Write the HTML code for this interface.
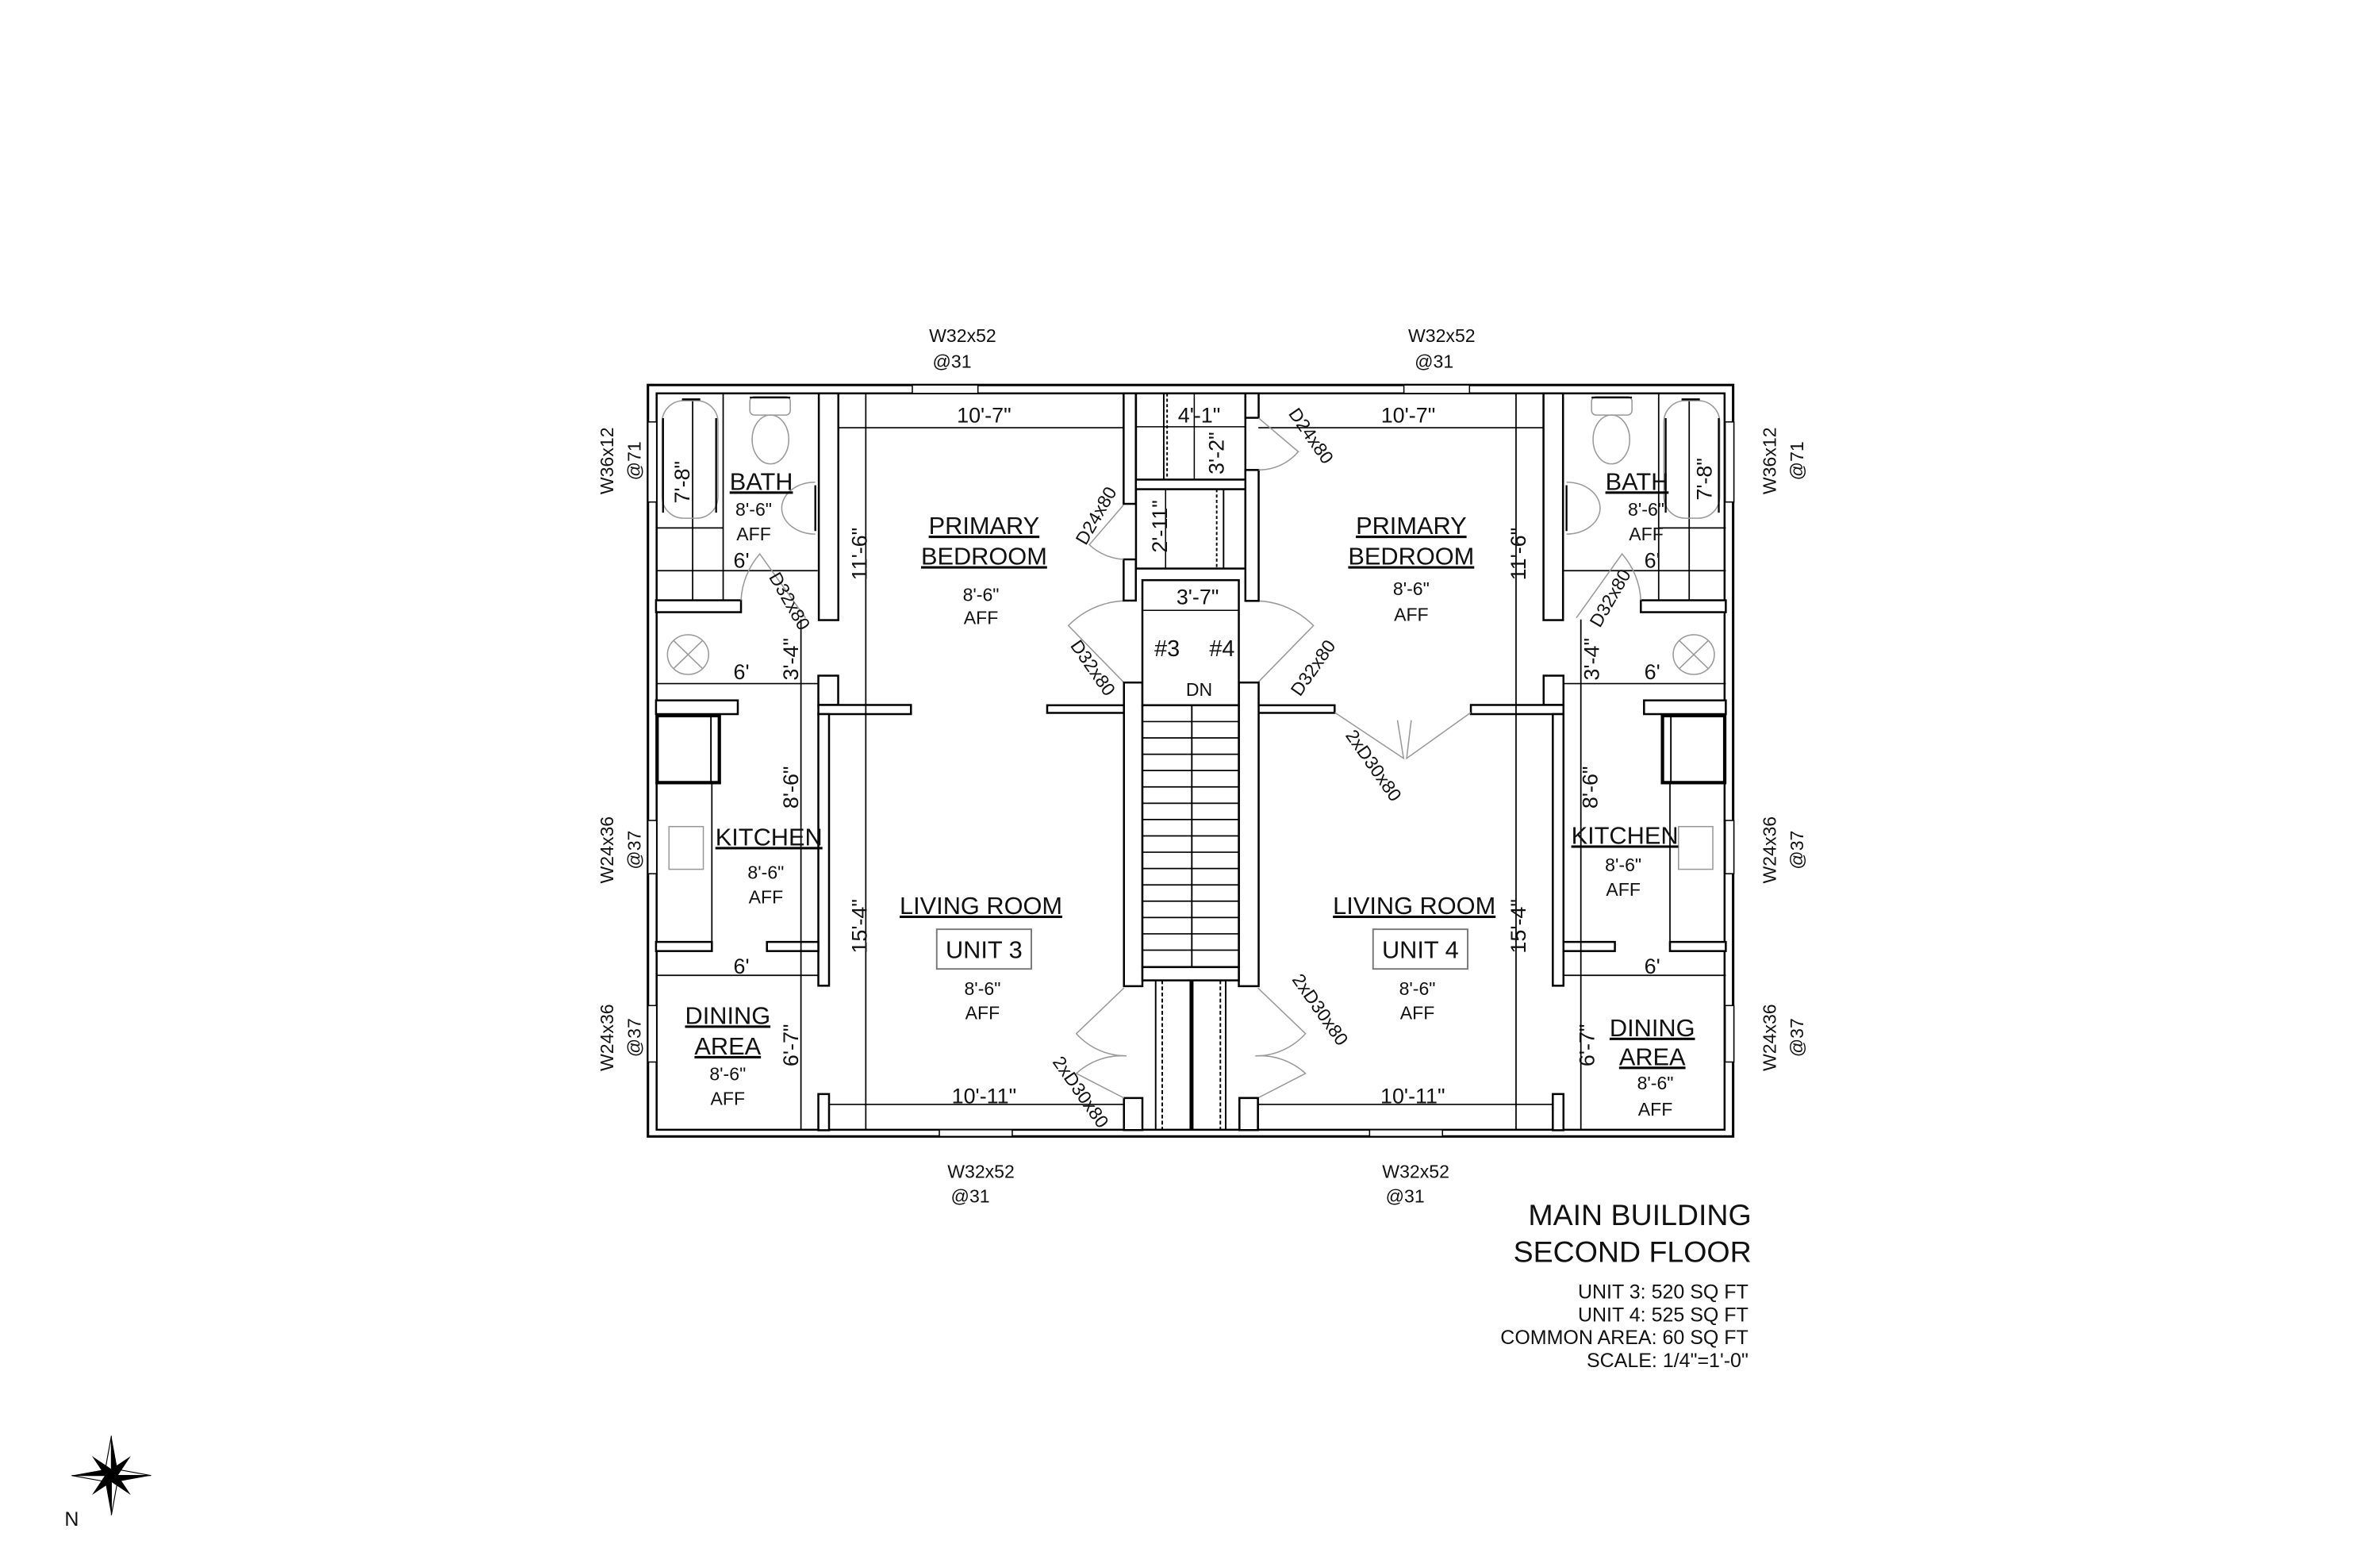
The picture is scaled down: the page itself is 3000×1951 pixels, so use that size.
<!DOCTYPE html>
<html><head><meta charset="utf-8"><style>
html,body{margin:0;padding:0;background:#fff;}
svg{display:block;}
text{font-family:"Liberation Sans",Arial,sans-serif;fill:#111;}
</style></head><body>
<svg width="3000" height="1951" viewBox="0 0 1560 1014.5" xmlns="http://www.w3.org/2000/svg">
<defs>
<g id="half">
  <g fill="#fff" stroke="#000" stroke-width="1.3">
    <rect x="536.7" y="257.8" width="12.8" height="148.6"/>
    <rect x="430" y="393.4" width="55.7" height="7.8"/>
    <rect x="430" y="459" width="53.6" height="9"/>
    <rect x="536.4" y="442.8" width="13" height="19.2"/>
    <rect x="536.4" y="462" width="60.7" height="6"/>
    <rect x="536.4" y="468" width="7" height="178"/>
    <rect x="430" y="617.3" width="36.6" height="6"/>
    <rect x="502.7" y="617.3" width="33.7" height="6"/>
    <rect x="536.4" y="717" width="7" height="23.7"/>
    <rect x="686.4" y="462.2" width="50.3" height="5"/>
    <rect x="736.7" y="719.6" width="12.1" height="21"/>
  </g>
  <g stroke="#000" stroke-width="0.9" fill="none">
    <line x1="549.5" y1="280.3" x2="736.4" y2="280.3"/>
    <line x1="567.5" y1="257.8" x2="567.5" y2="740"/>
    <line x1="543.4" y1="723.8" x2="736.7" y2="723.8"/>
    <line x1="454" y1="262" x2="454" y2="393"/>
    <line x1="430" y1="374" x2="536" y2="374"/>
    <line x1="474" y1="257.8" x2="474" y2="393"/>
    <line x1="430" y1="346" x2="474" y2="346"/>
    <line x1="430" y1="448" x2="536" y2="448"/>
    <line x1="525" y1="406" x2="525" y2="740"/>
    <line x1="430" y1="639.2" x2="536" y2="639.2"/>
    <line x1="466.6" y1="512" x2="466.6" y2="617"/>
  </g>
  <g stroke="#999" stroke-width="0.8" fill="none">
    <rect x="434" y="262.6" width="36.6" height="77" rx="14"/>
    <rect x="491.5" y="260" width="26.5" height="12" rx="3"/>
    <ellipse cx="505" cy="288" rx="12" ry="16"/>
    <path d="M534.4,316 A22 17 0 0 0 534.4,350"/>
    <ellipse cx="451" cy="429" rx="13.5" ry="13"/>
    <line x1="441.5" y1="419.8" x2="460.5" y2="438.2"/>
    <line x1="460.5" y1="419.8" x2="441.5" y2="438.2"/>
    <path d="M528,405 L498,363 A50 50 0 0 0 485.7,393.4"/>
    <path d="M736.7,447.3 L700.3,410 A53.5 53.5 0 0 1 736.7,393.8"/>
    <path d="M736.7,647.5 L705.5,677.4 A44 44 0 0 0 738.4,692"/>
    <path d="M736.7,719.6 L705.5,703.5 A44 44 0 0 1 738.4,692"/>
    <rect x="438.5" y="541.7" width="22.5" height="28"/>
  </g>
  <g stroke="#000" stroke-width="1.2" fill="none">
    <line x1="434.6" y1="274" x2="434.6" y2="336"/>
    <line x1="469.4" y1="274" x2="469.4" y2="336"/>
    <line x1="447" y1="261.7" x2="459" y2="261.7"/>
    <line x1="534.4" y1="318" x2="534.4" y2="348"/>
    <line x1="491.5" y1="260.5" x2="518" y2="260.5"/>
  </g>
  <rect x="430.7" y="469" width="40.8" height="43.9" fill="#fff" stroke="#000" stroke-width="2.2"/>
  <line x1="466" y1="470" x2="466" y2="512" stroke="#000" stroke-width="1"/>
  <g fill="#fff" stroke="#000" stroke-width="0.8">
    <rect x="424.7" y="276.5" width="5.7" height="52.5"/>
    <rect x="424.7" y="537.7" width="5.7" height="34.9"/>
    <rect x="424.7" y="659" width="5.7" height="37"/>
    <rect x="598" y="252.3" width="43" height="5.5"/>
    <rect x="615.7" y="740.4" width="47.8" height="4.4"/>
  </g>
</g>
</defs>

<rect x="424.7" y="252.3" width="711.3" height="492.5" fill="#fff" stroke="#000" stroke-width="1.6"/>
<rect x="430.4" y="257.8" width="700" height="482.6" fill="#fff" stroke="#000" stroke-width="1.3"/>

<use href="#half"/>
<use href="#half" transform="translate(1561.2,0) scale(-1,1)"/>

<g fill="#fff" stroke="#000" stroke-width="1.3">
  <rect x="736.5" y="257.8" width="8" height="72.4"/>
  <rect x="736.5" y="366.6" width="8" height="27"/>
  <rect x="736.7" y="447.3" width="12.1" height="199"/>
  <rect x="744.6" y="257.8" width="71.7" height="56.5"/>
  <rect x="744.6" y="320.6" width="71.7" height="52"/>
  <rect x="816.3" y="257.8" width="8.7" height="16"/>
  <rect x="816.3" y="308" width="8.7" height="85.8"/>
  <rect x="812" y="447.3" width="13" height="199"/>
  <rect x="748.8" y="380.2" width="63.2" height="82"/>
  <rect x="748.8" y="462.2" width="63.2" height="171.6"/>
  <rect x="748.8" y="633.8" width="63.2" height="8.7"/>
  <rect x="812.4" y="719.6" width="12.1" height="21"/>
</g>
<g stroke="#000" stroke-width="1" fill="none">
  <line x1="762.8" y1="257.8" x2="762.8" y2="314.3"/>
  <line x1="765" y1="257.8" x2="765" y2="314.3" stroke-dasharray="2,1.5"/>
  <line x1="802" y1="320.6" x2="802" y2="372.6"/>
  <line x1="797.5" y1="320.6" x2="797.5" y2="372.6" stroke-dasharray="2,1.5"/>
  <line x1="744.6" y1="279.7" x2="816.3" y2="279.7" stroke-width="0.8"/>
  <line x1="782.8" y1="257.8" x2="782.8" y2="314.3" stroke-width="0.8"/>
  <line x1="764" y1="320.6" x2="764" y2="372.6" stroke-width="0.8"/>
  <line x1="748.8" y1="400" x2="812" y2="400" stroke-width="0.8"/>
  <line x1="781.2" y1="462.2" x2="781.2" y2="633.8"/>
  <line x1="757.5" y1="642.5" x2="757.5" y2="740.4"/>
  <line x1="803.4" y1="642.5" x2="803.4" y2="740.4"/>
  <line x1="761.8" y1="642.5" x2="761.8" y2="740.4" stroke-dasharray="2.5,1.5"/>
  <line x1="799.9" y1="642.5" x2="799.9" y2="740.4" stroke-dasharray="2.5,1.5"/>
  <line x1="781" y1="642.5" x2="781" y2="740.4" stroke-width="2.6"/>
</g>
<g stroke="#000" stroke-width="0.9">
  <line x1="748.8" y1="472.9" x2="812" y2="472.9"/><line x1="748.8" y1="483.6" x2="812" y2="483.6"/>
  <line x1="748.8" y1="494.3" x2="812" y2="494.3"/><line x1="748.8" y1="505" x2="812" y2="505"/>
  <line x1="748.8" y1="515.7" x2="812" y2="515.7"/><line x1="748.8" y1="526.4" x2="812" y2="526.4"/>
  <line x1="748.8" y1="537.1" x2="812" y2="537.1"/><line x1="748.8" y1="547.8" x2="812" y2="547.8"/>
  <line x1="748.8" y1="558.5" x2="812" y2="558.5"/><line x1="748.8" y1="569.2" x2="812" y2="569.2"/>
  <line x1="748.8" y1="579.9" x2="812" y2="579.9"/><line x1="748.8" y1="590.6" x2="812" y2="590.6"/>
  <line x1="748.8" y1="601.3" x2="812" y2="601.3"/><line x1="748.8" y1="612" x2="812" y2="612"/>
  <line x1="748.8" y1="622.7" x2="812" y2="622.7"/>
</g>
<g stroke="#999" stroke-width="0.8" fill="none">
  <path d="M736.4,331 L714,357 A36 36 0 0 0 736.4,366.6"/>
  <path d="M825,274 L851,296 A34 34 0 0 1 825,308"/>
  <path d="M875,467 L920,497 L916,472"/>
  <path d="M964,467 L922,497 L925,472"/>
</g>

<g font-size="12" text-anchor="middle">
  <text x="631" y="224">W32x52</text><text x="624" y="241">@31</text>
  <text x="945" y="224">W32x52</text><text x="940" y="241">@31</text>
  <text x="643" y="772">W32x52</text><text x="636" y="788">@31</text>
  <text x="928" y="772">W32x52</text><text x="921" y="788">@31</text>
  <text transform="translate(402,302) rotate(-90)">W36x12</text>
  <text transform="translate(420,302) rotate(-90)">@71</text>
  <text transform="translate(402,557) rotate(-90)">W24x36</text>
  <text transform="translate(420,557) rotate(-90)">@37</text>
  <text transform="translate(402,680) rotate(-90)">W24x36</text>
  <text transform="translate(420,680) rotate(-90)">@37</text>
  <text transform="translate(1164,302) rotate(-90)">W36x12</text>
  <text transform="translate(1182,302) rotate(-90)">@71</text>
  <text transform="translate(1164,557) rotate(-90)">W24x36</text>
  <text transform="translate(1182,557) rotate(-90)">@37</text>
  <text transform="translate(1164,680) rotate(-90)">W24x36</text>
  <text transform="translate(1182,680) rotate(-90)">@37</text>
</g>

<g font-size="16" text-anchor="middle" text-decoration="underline">
  <text x="499" y="321">BATH</text>
  <text x="645" y="350">PRIMARY</text>
  <text x="645" y="370">BEDROOM</text>
  <text x="504" y="554">KITCHEN</text>
  <text x="643" y="599">LIVING ROOM</text>
  <text x="477" y="671">DINING</text>
  <text x="477" y="691">AREA</text>
  <text x="1073" y="321">BATH</text>
  <text x="925" y="350">PRIMARY</text>
  <text x="925" y="370">BEDROOM</text>
  <text x="1065" y="553">KITCHEN</text>
  <text x="927" y="599">LIVING ROOM</text>
  <text x="1083" y="679">DINING</text>
  <text x="1083" y="698">AREA</text>
</g>
<g font-size="16" text-anchor="middle">
  <rect x="614" y="609" width="62" height="26" fill="none" stroke="#777" stroke-width="1"/>
  <text x="645" y="628">UNIT 3</text>
  <rect x="900" y="609" width="62" height="26" fill="none" stroke="#777" stroke-width="1"/>
  <text x="931" y="628">UNIT 4</text>
  <text x="765" y="430" font-size="15">#3</text>
  <text x="801" y="430" font-size="15">#4</text>
</g>
<g font-size="12" text-anchor="middle">
  <text x="494" y="338">8'-6"</text><text x="494" y="354">AFF</text>
  <text x="643" y="394">8'-6"</text><text x="643" y="409">AFF</text>
  <text x="502" y="576">8'-6"</text><text x="502" y="592">AFF</text>
  <text x="644" y="652">8'-6"</text><text x="644" y="668">AFF</text>
  <text x="477" y="708">8'-6"</text><text x="477" y="724">AFF</text>
  <text x="1079" y="338">8'-6"</text><text x="1079" y="354">AFF</text>
  <text x="925" y="390">8'-6"</text><text x="925" y="407">AFF</text>
  <text x="1064" y="571">8'-6"</text><text x="1064" y="587">AFF</text>
  <text x="929" y="652">8'-6"</text><text x="929" y="668">AFF</text>
  <text x="1085" y="714">8'-6"</text><text x="1085" y="731">AFF</text>
  <text x="786" y="456">DN</text>
</g>
<g font-size="14" text-anchor="middle">
  <text x="645" y="277">10'-7"</text>
  <text x="923" y="277">10'-7"</text>
  <text x="786" y="277">4'-1"</text>
  <text x="785" y="396">3'-7"</text>
  <text x="645" y="723">10'-11"</text>
  <text x="926" y="723">10'-11"</text>
  <text x="486" y="372">6'</text>
  <text x="486" y="445">6'</text>
  <text x="486" y="638">6'</text>
  <text x="1083" y="372">6'</text>
  <text x="1083" y="445">6'</text>
  <text x="1083" y="638">6'</text>
  <text transform="translate(452,316) rotate(-90)">7'-8"</text>
  <text transform="translate(568,363) rotate(-90)">11'-6"</text>
  <text transform="translate(523,432) rotate(-90)">3'-4"</text>
  <text transform="translate(523,516) rotate(-90)">8'-6"</text>
  <text transform="translate(568,607) rotate(-90)">15'-4"</text>
  <text transform="translate(523,685) rotate(-90)">6'-7"</text>
  <text transform="translate(765,345) rotate(-90)">2'-11"</text>
  <text transform="translate(802,297) rotate(-90)">3'-2"</text>
  <text transform="translate(1122,314) rotate(-90)">7'-8"</text>
  <text transform="translate(1000,363) rotate(-90)">11'-6"</text>
  <text transform="translate(1048,432) rotate(-90)">3'-4"</text>
  <text transform="translate(1047,516) rotate(-90)">8'-6"</text>
  <text transform="translate(1000,607) rotate(-90)">15'-4"</text>
  <text transform="translate(1045,685) rotate(-90)">6'-7"</text>
</g>
<g font-size="12" text-anchor="middle">
  <text transform="translate(514,396) rotate(60)">D32x80</text>
  <text transform="translate(722,340) rotate(-60)">D24x80</text>
  <text transform="translate(713,440) rotate(55)">D32x80</text>
  <text transform="translate(705,718) rotate(55)">2xD30x80</text>
  <text transform="translate(856,288) rotate(55)">D24x80</text>
  <text transform="translate(864,440) rotate(-55)">D32x80</text>
  <text transform="translate(897,504) rotate(55)">2xD30x80</text>
  <text transform="translate(862,664) rotate(55)">2xD30x80</text>
  <text transform="translate(1059,394) rotate(-60)">D32x80</text>
</g>

<g text-anchor="end">
  <text x="1148" y="803" font-size="19.5">MAIN BUILDING</text>
  <text x="1148" y="827" font-size="19.5">SECOND FLOOR</text>
  <text x="1146" y="851" font-size="13">UNIT 3: 520 SQ FT</text>
  <text x="1146" y="866" font-size="13">UNIT 4: 525 SQ FT</text>
  <text x="1146" y="881" font-size="13">COMMON AREA: 60 SQ FT</text>
  <text x="1146" y="896" font-size="13">SCALE: 1/4"=1'-0"</text>
</g>

<g transform="translate(73,967)">
  <polygon points="0,-26 4,-4 0,0 -4,-4" fill="#000"/>
  <polygon points="0,26 4,4 0,0 -4,4" fill="#000"/>
  <polygon points="26,0 4,4 0,0 4,-4" fill="#000"/>
  <polygon points="-26,0 -4,4 0,0 -4,-4" fill="#000"/>
  <polygon points="0,-26 -4,-4 0,0" fill="#fff" stroke="#000" stroke-width="0.6"/>
  <polygon points="26,0 4,-4 0,0" fill="#fff" stroke="#000" stroke-width="0.6"/>
  <polygon points="0,26 4,4 0,0" fill="#fff" stroke="#000" stroke-width="0.6"/>
  <polygon points="-26,0 -4,4 0,0" fill="#fff" stroke="#000" stroke-width="0.6"/>
  <g transform="rotate(45)">
    <polygon points="0,-18 3,-3 0,0 -3,-3" fill="#000"/>
    <polygon points="0,18 3,3 0,0 -3,3" fill="#000"/>
    <polygon points="18,0 3,3 0,0 3,-3" fill="#000"/>
    <polygon points="-18,0 -3,3 0,0 -3,-3" fill="#000"/>
  </g>
</g>
<text x="47" y="1000" font-size="13" text-anchor="middle">N</text>
</svg>
</body></html>
